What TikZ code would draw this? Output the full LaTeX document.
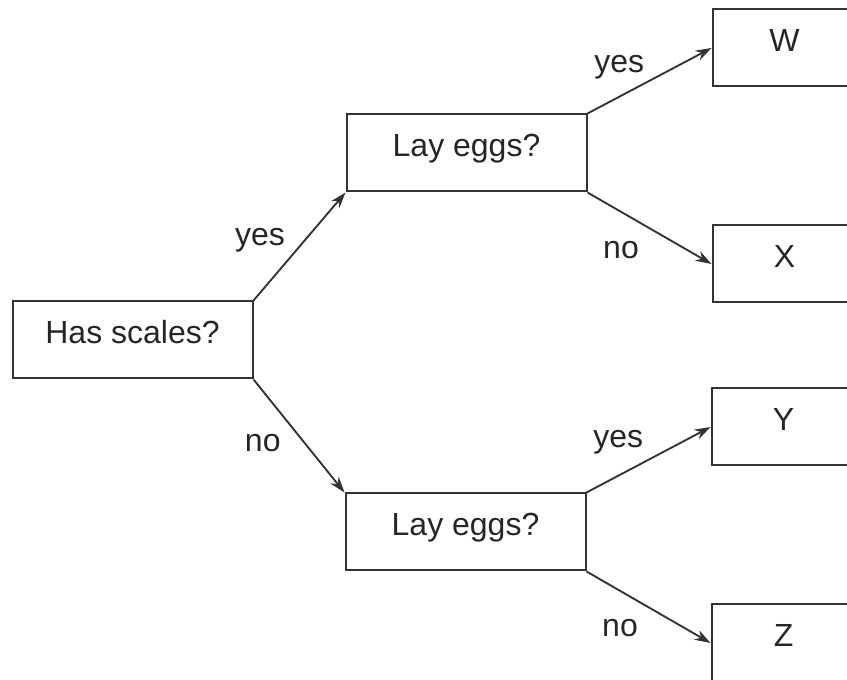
\documentclass[tikz,border=0pt]{standalone}
\usepackage{fontspec}
\setmainfont{Liberation Sans}
\usetikzlibrary{arrows.meta, positioning}

\begin{document}
\begin{tikzpicture}[
    box/.style={rectangle, draw=black!80, line width=1.5pt, minimum width=180pt, minimum height=57.75pt, text height=0.85em, text depth=0.35em, align=center, font=\fontsize{24}{28}\selectfont, text=black!85},
    leaf/.style={box, minimum width=108pt},
    lbl/.style={font=\fontsize{24}{28}\selectfont, text=black!85}
]
    \useasboundingbox (0,0) rectangle (635.25pt,-510pt);
    \clip (0,0) rectangle (635.25pt,-510pt);
    \node[box] (scales) at (99.4pt,-255pt) {Has scales?};
    \node[box] (layup) [above right=81pt and 69pt of scales.north east] {Lay eggs?};
    \node[box] (laydown) [below right=84.75pt and 68.25pt of scales.south east] {Lay eggs?};
    \node[leaf] (w) [above right=19.5pt and 93pt of layup.north east] {W};
    \node[leaf] (x) [below right=24pt and 93pt of layup.south east] {X};
    \node[leaf] (y) [above right=19.5pt and 93pt of laydown.north east] {Y};
    \node[leaf] (z) [below right=24pt and 93pt of laydown.south east] {Z};
    \draw[->, >={Stealth[length=12pt, width=8pt]}, draw=black!80, line width=1.4pt] (scales.north east) -- node[lbl, above left, pos=0.4] {yes} (layup.south west);
    \draw[->, >={Stealth[length=12pt, width=8pt]}, draw=black!80, line width=1.4pt] (scales.south east) -- node[lbl, below left, pos=0.4, xshift=-3pt, yshift=-3pt] {no} (laydown.north west);
    \draw[->, >={Stealth[length=12pt, width=8pt]}, draw=black!80, line width=1.4pt] (layup.north east) -- node[lbl, above left, yshift=-3pt] {yes} (w.west);
    \draw[->, >={Stealth[length=12pt, width=8pt]}, draw=black!80, line width=1.4pt] (layup.south east) -- node[lbl, below left, xshift=-4pt, yshift=-6pt] {no} (x.west);
    \draw[->, >={Stealth[length=12pt, width=8pt]}, draw=black!80, line width=1.4pt] (laydown.north east) -- node[lbl, above left] {yes} (y.west);
    \draw[->, >={Stealth[length=12pt, width=8pt]}, draw=black!80, line width=1.4pt] (laydown.south east) -- node[lbl, below left, xshift=-4pt, yshift=-5pt] {no} (z.west);
\end{tikzpicture}
\end{document}
